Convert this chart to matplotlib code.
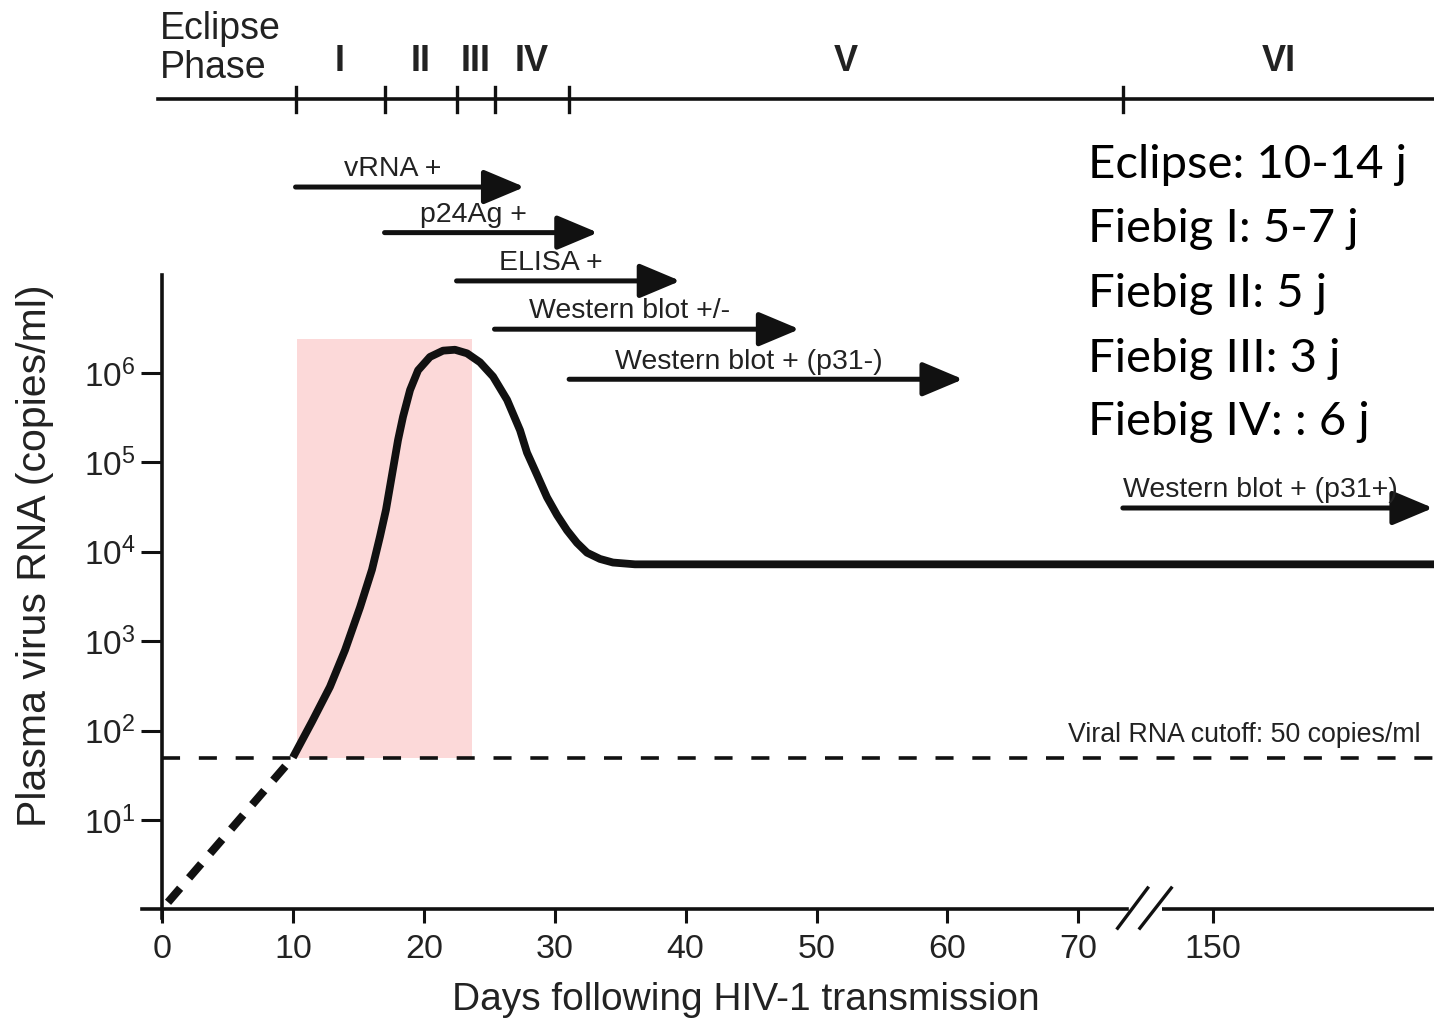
import numpy as np
import matplotlib
matplotlib.use("Agg")
import matplotlib.pyplot as plt

plt.rcParams['font.family'] = ['Liberation Sans', 'DejaVu Sans']
plt.rcParams['mathtext.fontset'] = 'custom'
plt.rcParams['mathtext.rm'] = 'Liberation Sans'

TEXT = '#222222'

# viral load course: day on the (broken) axis, log10 copies/ml
early_days = [0.46, 10.0]
early_log = [0.08, 1.70]

curve_days = [10.0, 11.46, 12.83, 13.98, 15.13, 16.04, 16.65, 17.11, 17.57, 18.03,
              18.41, 18.95, 19.56, 20.47, 21.47, 22.38, 23.30, 24.29, 25.29, 26.36,
              27.35, 27.88, 28.65, 29.41, 30.18, 30.94, 31.70, 32.47, 33.46, 34.45,
              36.13, 38.04, 97.2]
curve_log = [1.70, 2.10, 2.49, 2.90, 3.38, 3.80, 4.17, 4.47, 4.86, 5.25,
             5.51, 5.81, 6.03, 6.18, 6.25, 6.26, 6.22, 6.12, 5.96, 5.70,
             5.36, 5.11, 4.86, 4.61, 4.41, 4.24, 4.10, 3.99, 3.92, 3.88,
             3.86, 3.86, 3.86]

CUTOFF = 50
x_ticks = [0, 10, 20, 30, 40, 50, 60, 70, 80.29]
x_ticklabels = ['0', '10', '20', '30', '40', '50', '60', '70', '150']
y_exponents = [1, 2, 3, 4, 5, 6]

# Fiebig staging
phase_bounds = [10.2, 17.0, 22.5, 25.4, 31.1, 73.4]
phase_labels = ['I', 'II', 'III', 'IV', 'V', 'VI']
x_end = 97.17

# assay positivity windows
assay_labels = ['vRNA +', 'p24Ag +', 'ELISA +', 'Western blot +/-',
                'Western blot + (p31-)', 'Western blot + (p31+)']
assay_start = [10.2, 17.0, 22.5, 25.4, 31.1, 73.4]
assay_end = [27.7, 33.3, 39.6, 48.7, 61.2, 97.1]
assay_level = [8.08, 7.57, 7.03, 6.49, 5.93, 4.49]

# shaded acute window
shade_days = [10.31, 23.68]
shade_top = 6.38

box_lines = ['Eclipse: 10-14 j', 'Fiebig I: 5-7 j', 'Fiebig II: 5 j',
             'Fiebig III: 3 j', 'Fiebig IV: : 6 j']
box_levels = [8.18, 7.465, 6.74, 6.01, 5.31]


def lv(v):
    return 10.0 ** v


fig = plt.figure(figsize=(14.34, 10.21), dpi=100)
ax = fig.add_axes([0, 0, 1, 1])
ax.set_facecolor('white')
ax.set_xlim(-12.376, x_end)
ax.set_yscale('log')
ax.set_ylim(lv(-1.248), lv(10.172))

# axes spines crossing at day 0 / 1 copy
for s in ['top', 'right']:
    ax.spines[s].set_visible(False)
ax.spines['left'].set_position(('data', 0))
ax.spines['left'].set_bounds(lv(-0.1), lv(7.1))
ax.spines['bottom'].set_position(('data', 1))
ax.spines['bottom'].set_bounds(-1.53, 73.7)
for s in ['left', 'bottom']:
    ax.spines[s].set_linewidth(2.6)
    ax.spines[s].set_color('#111111')
ax.plot([76.4, x_end], [1, 1], color='#111111', lw=2.6, solid_capstyle='butt', clip_on=False)
# axis break marks
ax.plot([73.0, 75.3], [lv(-0.21), lv(0.24)], color='#111111', lw=2.4)
ax.plot([74.7, 77.1], [lv(-0.21), lv(0.24)], color='#111111', lw=2.4)

ax.set_xticks(x_ticks)
ax.set_xticklabels(x_ticklabels)
ax.set_yticks([lv(e) for e in y_exponents])
ax.set_yticklabels([r'$\mathregular{10^{%d}}$' % e for e in y_exponents])
ax.yaxis.set_minor_locator(matplotlib.ticker.NullLocator())
ax.tick_params(axis='x', direction='out', length=10, width=2.2, pad=8,
               labelsize=24.5, colors='#111111', labelcolor=TEXT)
ax.tick_params(axis='y', direction='out', length=15, width=2.2, pad=4,
               labelsize=24, colors='#111111', labelcolor=TEXT)

ax.text(-9.7, lv(3.96), 'Plasma virus RNA (copies/ml)', rotation=90,
        ha='center', va='center', fontsize=29.5, color=TEXT)
ax.text(44.6, lv(-1.01), 'Days following HIV-1 transmission',
        ha='center', va='center', fontsize=28, color=TEXT)

# shaded window and viral load curve
ax.fill_between(shade_days, CUTOFF, lv(shade_top), color='#fcd9d9', lw=0, zorder=1)
ax.axhline(CUTOFF, xmin=(0 + 12.376) / (x_end + 12.376), color='#111111', lw=2.6,
           dashes=(5.0, 5.2), zorder=2)
ax.text(82.66, lv(1.87), 'Viral RNA cutoff: 50 copies/ml', ha='center', va='baseline',
        fontsize=19.3, color=TEXT)
ax.plot(early_days, [lv(v) for v in early_log], color='#111111', lw=5.8,
        dashes=(2.3, 1.7), zorder=3)
ax.plot(curve_days, [lv(v) for v in curve_log], color='#111111', lw=5.6,
        solid_joinstyle='round', solid_capstyle='butt', zorder=3)

# Fiebig stage bar
ax.plot([-0.3, x_end], [lv(9.065), lv(9.065)], color='#111111', lw=2.6, clip_on=False)
for b in phase_bounds:
    ax.plot([b, b], [lv(8.92), lv(9.2)], color='#111111', lw=2.4)
edges = phase_bounds + [x_end]
for i, lab in enumerate(phase_labels):
    ax.text((edges[i] + edges[i + 1]) / 2, lv(9.48), lab, ha='center', va='center',
            fontsize=26, fontweight='bold', color=TEXT)
ax.text(-0.15, lv(9.74), 'Eclipse', ha='left', va='baseline', fontsize=27, color=TEXT)
ax.text(-0.15, lv(9.30), 'Phase', ha='left', va='baseline', fontsize=27, color=TEXT)

# assay arrows
head = 2.67
for lab, s, e, lvl in zip(assay_labels, assay_start, assay_end, assay_level):
    ax.annotate('', xy=(e, lv(lvl)), xytext=(s, lv(lvl)),
                arrowprops=dict(arrowstyle='-|>,head_length=2.5,head_width=1.05',
                                mutation_scale=10, lw=3.6, color='#111111',
                                shrinkA=0, shrinkB=0))
    ax.text((s + e - head) / 2, lv(lvl + 0.12), lab, ha='center', va='baseline',
            fontsize=20.5, color=TEXT)

for line, lvl in zip(box_lines, box_levels):
    ax.text(70.74, lv(lvl), line, ha='left', va='baseline', fontsize=34,
            family=['Lato', 'DejaVu Sans'], color='black')

fig.savefig('out.png', dpi=100)
